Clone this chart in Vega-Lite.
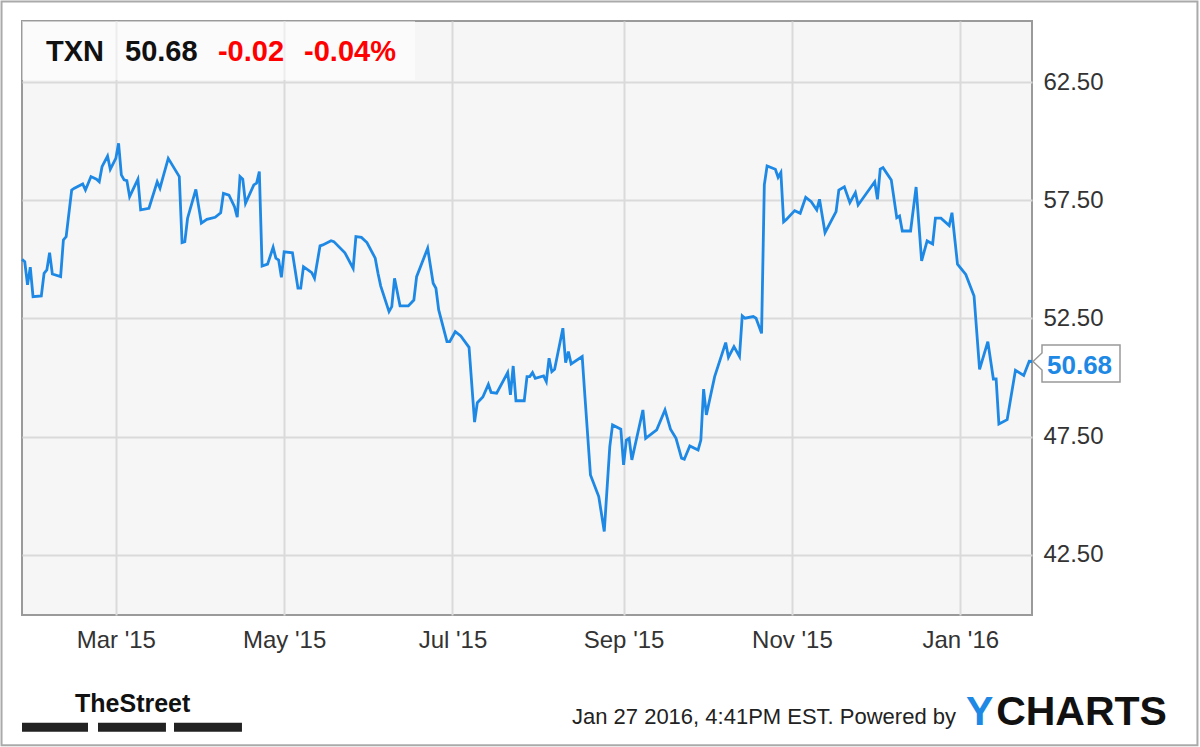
{
  "$schema": "https://vega.github.io/schema/vega-lite/v6.json",
  "width": 1010,
  "height": 594,
  "autosize": {"type": "none"},
  "padding": {"left": 22, "top": 21, "right": 168, "bottom": 132},
  "background": "#ffffff",
  "config": {
    "font": "Liberation Sans, Arial, sans-serif",
    "view": {"fill": "#f6f6f6", "stroke": "#9a9a9a", "strokeWidth": 2},
    "axis": {
      "domain": false, "ticks": false, "tickSize": 0, "grid": true,
      "gridColor": "#dadada", "gridWidth": 2, "title": null,
      "labelFont": "Liberation Sans, Arial, sans-serif", "labelFontSize": 24, "labelColor": "#333333"
    }
  },
  "datasets": {
    "txn": [
      {"date":"2015-01-26","price":55.00},{"date":"2015-01-27","price":54.90},{"date":"2015-01-28","price":53.92},{"date":"2015-01-29","price":54.67},{"date":"2015-01-30","price":53.42},
      {"date":"2015-02-02","price":53.45},{"date":"2015-02-03","price":54.41},{"date":"2015-02-04","price":54.55},{"date":"2015-02-05","price":55.28},{"date":"2015-02-06","price":54.38},
      {"date":"2015-02-09","price":54.27},{"date":"2015-02-10","price":55.82},{"date":"2015-02-11","price":55.96},{"date":"2015-02-13","price":57.93},{"date":"2015-02-14","price":58.01},
      {"date":"2015-02-17","price":58.19},{"date":"2015-02-18","price":57.93},{"date":"2015-02-20","price":58.50},{"date":"2015-02-22","price":58.39},{"date":"2015-02-23","price":58.28},
      {"date":"2015-02-24","price":58.92},{"date":"2015-02-26","price":59.37},{"date":"2015-02-27","price":58.81},{"date":"2015-03-01","price":59.27},{"date":"2015-03-02","price":59.91},
      {"date":"2015-03-03","price":58.57},{"date":"2015-03-04","price":58.36},{"date":"2015-03-05","price":58.33},{"date":"2015-03-06","price":57.65},{"date":"2015-03-09","price":58.39},
      {"date":"2015-03-10","price":57.09},{"date":"2015-03-13","price":57.16},{"date":"2015-03-16","price":58.28},{"date":"2015-03-17","price":58.01},{"date":"2015-03-18","price":58.43},
      {"date":"2015-03-20","price":59.27},{"date":"2015-03-24","price":58.50},{"date":"2015-03-25","price":55.71},{"date":"2015-03-26","price":55.75},{"date":"2015-03-27","price":56.74},
      {"date":"2015-03-30","price":57.96},{"date":"2015-04-01","price":56.53},{"date":"2015-04-03","price":56.69},{"date":"2015-04-06","price":56.78},{"date":"2015-04-08","price":56.97},
      {"date":"2015-04-09","price":57.79},{"date":"2015-04-11","price":57.72},{"date":"2015-04-13","price":57.23},{"date":"2015-04-14","price":56.78},{"date":"2015-04-15","price":58.50},
      {"date":"2015-04-16","price":58.39},{"date":"2015-04-17","price":57.37},{"date":"2015-04-20","price":58.15},{"date":"2015-04-21","price":58.22},{"date":"2015-04-22","price":58.71},
      {"date":"2015-04-23","price":54.72},{"date":"2015-04-25","price":54.80},{"date":"2015-04-27","price":55.51},{"date":"2015-04-28","price":55.05},{"date":"2015-04-29","price":54.97},
      {"date":"2015-04-30","price":54.24},{"date":"2015-05-01","price":55.32},{"date":"2015-05-04","price":55.28},{"date":"2015-05-06","price":53.78},{"date":"2015-05-07","price":53.78},
      {"date":"2015-05-08","price":54.69},{"date":"2015-05-11","price":54.44},{"date":"2015-05-12","price":54.20},{"date":"2015-05-14","price":55.57},{"date":"2015-05-15","price":55.61},
      {"date":"2015-05-18","price":55.79},{"date":"2015-05-19","price":55.75},{"date":"2015-05-23","price":55.28},{"date":"2015-05-26","price":54.62},{"date":"2015-05-27","price":55.96},
      {"date":"2015-05-29","price":55.93},{"date":"2015-05-31","price":55.71},{"date":"2015-06-03","price":55.05},{"date":"2015-06-04","price":54.41},{"date":"2015-06-05","price":53.87},
      {"date":"2015-06-08","price":52.79},{"date":"2015-06-09","price":53.00},{"date":"2015-06-10","price":54.20},{"date":"2015-06-12","price":53.03},{"date":"2015-06-15","price":53.03},
      {"date":"2015-06-17","price":53.28},{"date":"2015-06-18","price":54.27},{"date":"2015-06-22","price":55.47},{"date":"2015-06-24","price":53.99},{"date":"2015-06-25","price":53.78},
      {"date":"2015-06-26","price":52.86},{"date":"2015-06-29","price":51.52},{"date":"2015-06-30","price":51.52},{"date":"2015-07-02","price":51.94},{"date":"2015-07-04","price":51.76},
      {"date":"2015-07-07","price":51.28},{"date":"2015-07-09","price":48.12},{"date":"2015-07-10","price":48.94},{"date":"2015-07-12","price":49.18},{"date":"2015-07-14","price":49.71},
      {"date":"2015-07-15","price":49.37},{"date":"2015-07-17","price":49.34},{"date":"2015-07-21","price":50.21},{"date":"2015-07-22","price":49.27},{"date":"2015-07-23","price":50.49},
      {"date":"2015-07-24","price":49.02},{"date":"2015-07-27","price":49.02},{"date":"2015-07-28","price":50.04},{"date":"2015-07-29","price":50.04},{"date":"2015-07-30","price":50.21},
      {"date":"2015-07-31","price":49.97},{"date":"2015-08-03","price":50.07},{"date":"2015-08-04","price":49.83},{"date":"2015-08-05","price":50.82},{"date":"2015-08-06","price":50.25},
      {"date":"2015-08-07","price":50.35},{"date":"2015-08-10","price":52.09},{"date":"2015-08-11","price":50.63},{"date":"2015-08-12","price":51.10},{"date":"2015-08-13","price":50.58},
      {"date":"2015-08-17","price":50.89},{"date":"2015-08-18","price":49.19},{"date":"2015-08-20","price":45.88},{"date":"2015-08-23","price":44.97},{"date":"2015-08-25","price":43.49},
      {"date":"2015-08-27","price":47.08},{"date":"2015-08-28","price":48.00},{"date":"2015-08-31","price":47.82},{"date":"2015-09-01","price":46.31},{"date":"2015-09-02","price":47.36},
      {"date":"2015-09-03","price":47.43},{"date":"2015-09-04","price":46.52},{"date":"2015-09-08","price":48.63},{"date":"2015-09-09","price":47.43},{"date":"2015-09-13","price":47.79},
      {"date":"2015-09-16","price":48.63},{"date":"2015-09-18","price":47.82},{"date":"2015-09-20","price":47.43},{"date":"2015-09-22","price":46.59},{"date":"2015-09-23","price":46.55},
      {"date":"2015-09-25","price":47.11},{"date":"2015-09-28","price":46.94},{"date":"2015-09-29","price":47.36},{"date":"2015-09-30","price":49.51},{"date":"2015-10-01","price":48.42},
      {"date":"2015-10-04","price":50.04},{"date":"2015-10-08","price":51.48},{"date":"2015-10-09","price":50.86},{"date":"2015-10-11","price":51.31},{"date":"2015-10-13","price":50.89},
      {"date":"2015-10-14","price":52.61},{"date":"2015-10-15","price":52.51},{"date":"2015-10-18","price":52.58},{"date":"2015-10-19","price":52.51},{"date":"2015-10-21","price":51.87},
      {"date":"2015-10-22","price":58.15},{"date":"2015-10-23","price":58.95},{"date":"2015-10-26","price":58.81},{"date":"2015-10-27","price":58.47},{"date":"2015-10-28","price":58.67},
      {"date":"2015-10-29","price":56.59},{"date":"2015-10-30","price":56.69},{"date":"2015-11-02","price":57.06},{"date":"2015-11-04","price":56.95},{"date":"2015-11-06","price":57.62},
      {"date":"2015-11-08","price":57.44},{"date":"2015-11-10","price":57.09},{"date":"2015-11-11","price":57.54},{"date":"2015-11-13","price":56.13},{"date":"2015-11-17","price":57.02},
      {"date":"2015-11-18","price":57.93},{"date":"2015-11-20","price":58.07},{"date":"2015-11-22","price":57.40},{"date":"2015-11-24","price":57.82},{"date":"2015-11-25","price":57.30},
      {"date":"2015-12-01","price":58.28},{"date":"2015-12-02","price":57.54},{"date":"2015-12-03","price":58.82},{"date":"2015-12-04","price":58.88},{"date":"2015-12-07","price":58.36},
      {"date":"2015-12-09","price":56.76},{"date":"2015-12-10","price":56.83},{"date":"2015-12-11","price":56.20},{"date":"2015-12-14","price":56.20},{"date":"2015-12-16","price":58.06},
      {"date":"2015-12-18","price":54.94},{"date":"2015-12-20","price":55.78},{"date":"2015-12-22","price":55.65},{"date":"2015-12-23","price":56.74},{"date":"2015-12-25","price":56.74},
      {"date":"2015-12-28","price":56.43},{"date":"2015-12-29","price":56.97},{"date":"2015-12-31","price":54.80},{"date":"2016-01-03","price":54.36},{"date":"2016-01-06","price":53.45},
      {"date":"2016-01-08","price":50.35},{"date":"2016-01-11","price":51.52},{"date":"2016-01-13","price":49.94},{"date":"2016-01-14","price":49.94},{"date":"2016-01-15","price":48.04},
      {"date":"2016-01-18","price":48.22},{"date":"2016-01-21","price":50.31},{"date":"2016-01-24","price":50.09},{"date":"2016-01-26","price":50.69},{"date":"2016-01-27","price":50.68}
    ]
  },
  "layer": [
    {
      "data": {"name": "txn"},
      "mark": {"type": "line", "color": "#1e88e5", "strokeWidth": 2.8},
      "encoding": {
        "x": {
          "field": "date", "type": "temporal",
          "scale": {"type": "utc", "domain": [{"year": 2015, "month": 1, "date": 26, "utc": true}, {"year": 2016, "month": 1, "date": 27, "utc": true}]},
          "axis": {
            "title": null,
            "values": [
              {"year": 2015, "month": 3, "date": 1, "utc": true},
              {"year": 2015, "month": 5, "date": 1, "utc": true},
              {"year": 2015, "month": 7, "date": 1, "utc": true},
              {"year": 2015, "month": 9, "date": 1, "utc": true},
              {"year": 2015, "month": 11, "date": 1, "utc": true},
              {"year": 2016, "month": 1, "date": 1, "utc": true}
            ],
            "labelExpr": "utcFormat(datum.value, \"%b '%y\")",
            "labelPadding": 13, "labelFlush": false, "labelOverlap": false
          }
        },
        "y": {
          "field": "price", "type": "quantitative",
          "scale": {"domain": [39.96, 65.08], "zero": false, "nice": false},
          "axis": {"orient": "right", "title": null, "values": [42.5, 47.5, 52.5, 57.5, 62.5], "format": ".2f", "labelPadding": 11}
        }
      }
    },
    {
      "data": {"values": [{}]},
      "mark": {"type": "rect", "fill": "#ffffff", "opacity": 0.5},
      "encoding": {
        "x": {"datum": {"year": 2015, "month": 1, "date": 26, "utc": true}, "type": "temporal"},
        "x2": {"datum": {"year": 2015, "month": 6, "date": 17, "hours": 10, "utc": true}},
        "y": {"datum": 62.58, "type": "quantitative"},
        "y2": {"datum": 65.08}
      }
    },
    {
      "data": {"values": [{}]},
      "mark": {"type": "text", "text": "TXN", "align": "left", "baseline": "alphabetic", "fontSize": 29, "fontWeight": "bold", "color": "#111111"},
      "encoding": {
        "x": {"datum": {"year": 2015, "month": 2, "date": 3, "hours": 17, "utc": true}, "type": "temporal"},
        "y": {"datum": 63.39, "type": "quantitative"}
      }
    },
    {
      "data": {"values": [{}]},
      "mark": {"type": "text", "text": "50.68", "align": "left", "baseline": "alphabetic", "fontSize": 29, "fontWeight": "bold", "color": "#111111"},
      "encoding": {
        "x": {"datum": {"year": 2015, "month": 3, "date": 4, "hours": 8, "utc": true}, "type": "temporal"},
        "y": {"datum": 63.39, "type": "quantitative"}
      }
    },
    {
      "data": {"values": [{}]},
      "mark": {"type": "text", "text": "-0.02", "align": "left", "baseline": "alphabetic", "fontSize": 29, "fontWeight": "bold", "color": "#ff0000"},
      "encoding": {
        "x": {"datum": {"year": 2015, "month": 4, "date": 7, "hours": 0, "utc": true}, "type": "temporal"},
        "y": {"datum": 63.39, "type": "quantitative"}
      }
    },
    {
      "data": {"values": [{}]},
      "mark": {"type": "text", "text": "-0.04%", "align": "left", "baseline": "alphabetic", "fontSize": 29, "fontWeight": "bold", "color": "#ff0000"},
      "encoding": {
        "x": {"datum": {"year": 2015, "month": 5, "date": 8, "hours": 5, "utc": true}, "type": "temporal"},
        "y": {"datum": 63.39, "type": "quantitative"}
      }
    },
    {
      "data": {"values": [{}]},
      "mark": {"type": "point", "shape": "M0.01,0 L0.10,-0.085 L0.10,-0.165 L0.88,-0.165 L0.88,0.205 L0.10,0.205 L0.10,0.085 Z", "size": 40000, "filled": true, "fill": "#ffffff", "stroke": "#999999", "strokeWidth": 1.5, "opacity": 1},
      "encoding": {
        "x": {"datum": {"year": 2016, "month": 1, "date": 27, "utc": true}, "type": "temporal"},
        "y": {"datum": 50.68, "type": "quantitative"}
      }
    },
    {
      "data": {"values": [{}]},
      "mark": {"type": "text", "text": "50.68", "align": "left", "baseline": "alphabetic", "dx": 15, "dy": 12, "fontSize": 26, "fontWeight": "bold", "color": "#1e88e5"},
      "encoding": {
        "x": {"datum": {"year": 2016, "month": 1, "date": 27, "utc": true}, "type": "temporal"},
        "y": {"datum": 50.68, "type": "quantitative"}
      }
    },
    {
      "data": {"values": [{}]},
      "mark": {"type": "text", "text": "TheStreet", "align": "left", "baseline": "alphabetic", "fontSize": 25, "fontWeight": "bold", "color": "#111111"},
      "encoding": {
        "x": {"datum": {"year": 2015, "month": 2, "date": 14, "hours": 5, "utc": true}, "type": "temporal"},
        "y": {"datum": 35.86, "type": "quantitative"}
      }
    },
    {
      "data": {"values": [{}]},
      "mark": {"type": "rect", "fill": "#222222"},
      "encoding": {
        "x": {"datum": {"year": 2015, "month": 1, "date": 26, "utc": true}, "type": "temporal"},
        "x2": {"datum": {"year": 2015, "month": 2, "date": 18, "hours": 22, "utc": true}},
        "y": {"datum": 35.40, "type": "quantitative"},
        "y2": {"datum": 35.02}
      }
    },
    {
      "data": {"values": [{}]},
      "mark": {"type": "rect", "fill": "#222222"},
      "encoding": {
        "x": {"datum": {"year": 2015, "month": 2, "date": 22, "hours": 13, "utc": true}, "type": "temporal"},
        "x2": {"datum": {"year": 2015, "month": 3, "date": 19, "hours": 4, "utc": true}},
        "y": {"datum": 35.40, "type": "quantitative"},
        "y2": {"datum": 35.02}
      }
    },
    {
      "data": {"values": [{}]},
      "mark": {"type": "rect", "fill": "#222222"},
      "encoding": {
        "x": {"datum": {"year": 2015, "month": 3, "date": 22, "hours": 2, "utc": true}, "type": "temporal"},
        "x2": {"datum": {"year": 2015, "month": 4, "date": 15, "hours": 17, "utc": true}},
        "y": {"datum": 35.40, "type": "quantitative"},
        "y2": {"datum": 35.02}
      }
    },
    {
      "data": {"values": [{}]},
      "mark": {"type": "text", "text": "Jan 27 2016, 4:41PM EST.  Powered by", "align": "right", "baseline": "alphabetic", "fontSize": 22, "color": "#222222"},
      "encoding": {
        "x": {"datum": {"year": 2015, "month": 12, "date": 30, "hours": 11, "utc": true}, "type": "temporal"},
        "y": {"datum": 35.35, "type": "quantitative"}
      }
    },
    {
      "data": {"values": [{}]},
      "mark": {"type": "text", "text": "Y", "align": "left", "baseline": "alphabetic", "fontSize": 41, "fontWeight": "bold", "color": "#1e88e5"},
      "encoding": {
        "x": {"datum": {"year": 2016, "month": 1, "date": 3, "hours": 2, "utc": true}, "type": "temporal"},
        "y": {"datum": 35.31, "type": "quantitative"}
      }
    },
    {
      "data": {"values": [{}]},
      "mark": {"type": "text", "text": "CHARTS", "align": "left", "baseline": "alphabetic", "fontSize": 41, "fontWeight": "bold", "color": "#111111"},
      "encoding": {
        "x": {"datum": {"year": 2016, "month": 1, "date": 14, "hours": 0, "utc": true}, "type": "temporal"},
        "y": {"datum": 35.31, "type": "quantitative"}
      }
    },
    {
      "data": {"values": [{}]},
      "mark": {"type": "rect", "fill": null, "fillOpacity": 0, "stroke": "#aaaaaa", "strokeWidth": 2},
      "encoding": {
        "x": {"datum": {"year": 2015, "month": 1, "date": 18, "hours": 14, "utc": true}, "type": "temporal"},
        "x2": {"datum": {"year": 2016, "month": 3, "date": 26, "hours": 23, "utc": true}},
        "y": {"datum": 65.90, "type": "quantitative"},
        "y2": {"datum": 34.45}
      }
    }
  ]
}
